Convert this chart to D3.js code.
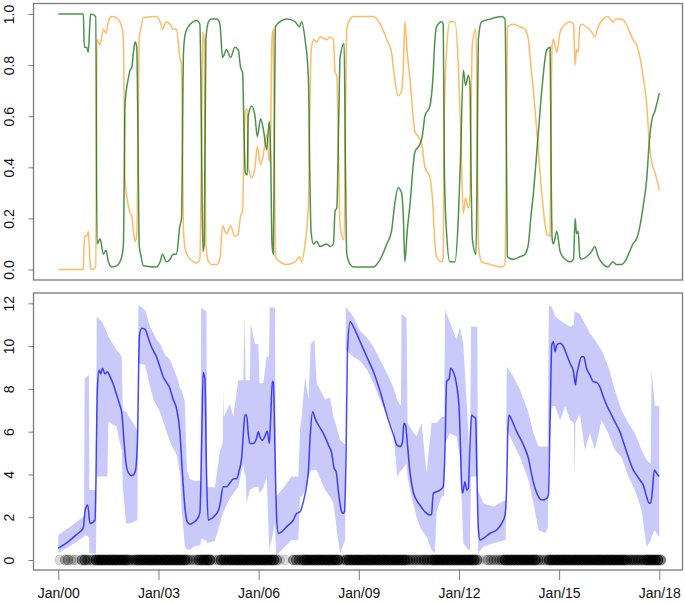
<!DOCTYPE html>
<html>
<head>
<meta charset="utf-8">
<script src="https://cdn.jsdelivr.net/npm/d3@7"></script>
<style>
  body { margin: 0; background: #fff; }
  svg { display: block; font-family: "Liberation Sans", Arial, sans-serif; }
</style>
</head>
<body>
<svg id="chart" width="685" height="603"></svg>
<script>
// ---- data ----
var probYears = [2000.00,2000.75,2000.78,2000.85,2000.90,2000.94,2000.97,2001.12,2001.16,2001.25,2001.35,2001.43,2001.50,2001.60,2001.75,2001.90,2001.95,2002.00,2002.10,2002.15,2002.20,2002.25,2002.30,2002.35,2002.38,2002.42,2002.48,2002.55,2002.94,2003.05,2003.12,2003.24,2003.35,2003.44,2003.54,2003.64,2003.69,2003.75,2003.80,2003.89,2004.05,2004.14,2004.24,2004.29,2004.33,2004.37,2004.42,2004.50,2004.59,2004.75,2004.84,2004.92,2005.04,2005.16,2005.29,2005.39,2005.46,2005.52,2005.56,2005.60,2005.66,2005.69,2005.79,2005.89,2005.96,2006.06,2006.14,2006.24,2006.32,2006.36,2006.40,2006.44,2006.47,2006.50,2006.64,2006.84,2007.09,2007.22,2007.29,2007.39,2007.49,2007.53,2007.57,2007.64,2007.74,2007.84,2008.04,2008.14,2008.24,2008.29,2008.34,2008.40,2008.44,2008.56,2008.60,2008.64,2008.74,2008.84,2009.44,2009.64,2009.84,2009.98,2010.08,2010.18,2010.28,2010.33,2010.38,2010.45,2010.53,2010.68,2010.83,2010.90,2010.98,2011.13,2011.22,2011.28,2011.33,2011.48,2011.53,2011.56,2011.63,2011.73,2011.88,2011.98,2012.05,2012.13,2012.20,2012.28,2012.33,2012.36,2012.40,2012.51,2012.55,2012.58,2012.68,2012.93,2013.28,2013.38,2013.42,2013.45,2013.63,2013.83,2013.98,2014.08,2014.15,2014.23,2014.35,2014.48,2014.63,2014.73,2014.76,2014.79,2014.83,2014.93,2015.03,2015.18,2015.33,2015.43,2015.48,2015.52,2015.57,2015.62,2015.67,2015.82,2015.97,2016.07,2016.17,2016.32,2016.46,2016.61,2016.71,2016.86,2017.01,2017.11,2017.21,2017.32,2017.42,2017.52,2017.62,2017.70,2017.77,2017.87,2018.00];
var probGreen = [1.00,1.00,0.87,0.87,0.85,0.95,1.00,0.99,0.10,0.12,0.06,0.075,0.03,0.01,0.015,0.05,0.10,0.65,0.75,0.78,0.79,0.85,0.89,0.87,0.60,0.10,0.05,0.015,0.01,0.03,0.06,0.03,0.04,0.06,0.06,0.17,0.20,0.85,0.92,0.95,0.97,0.975,0.96,0.50,0.07,0.10,0.90,0.97,0.98,0.98,0.96,0.83,0.86,0.83,0.87,0.86,0.79,0.77,0.55,0.38,0.37,0.60,0.64,0.60,0.52,0.59,0.55,0.47,0.58,0.45,0.10,0.06,0.50,0.95,0.97,0.98,0.97,0.95,0.97,0.90,0.75,0.40,0.15,0.10,0.11,0.09,0.10,0.09,0.10,0.23,0.24,0.60,0.83,0.885,0.40,0.06,0.02,0.01,0.01,0.04,0.10,0.15,0.26,0.32,0.30,0.22,0.03,0.15,0.25,0.46,0.49,0.52,0.60,0.64,0.75,0.90,0.95,0.97,0.96,0.40,0.14,0.03,0.03,0.20,0.45,0.78,0.72,0.76,0.72,0.40,0.12,0.06,0.50,0.90,0.97,0.98,0.99,0.98,0.50,0.05,0.04,0.05,0.06,0.10,0.20,0.30,0.49,0.70,0.86,0.87,0.40,0.12,0.10,0.15,0.07,0.04,0.03,0.04,0.20,0.14,0.15,0.05,0.04,0.05,0.07,0.09,0.05,0.02,0.01,0.03,0.02,0.02,0.04,0.07,0.10,0.12,0.17,0.25,0.35,0.50,0.58,0.62,0.69];
var probOrange = [0.00,0.00,0.13,0.13,0.15,0.05,0.00,0.01,0.90,0.88,0.94,0.925,0.97,0.99,0.985,0.95,0.90,0.35,0.25,0.22,0.21,0.15,0.11,0.13,0.40,0.90,0.95,0.985,0.99,0.97,0.94,0.97,0.96,0.94,0.94,0.83,0.80,0.15,0.08,0.05,0.03,0.025,0.04,0.50,0.93,0.90,0.10,0.03,0.02,0.02,0.04,0.17,0.14,0.17,0.13,0.14,0.21,0.23,0.45,0.62,0.63,0.40,0.36,0.40,0.48,0.41,0.45,0.53,0.42,0.55,0.90,0.94,0.50,0.05,0.03,0.02,0.03,0.05,0.03,0.10,0.25,0.60,0.85,0.90,0.89,0.91,0.90,0.91,0.90,0.77,0.76,0.40,0.17,0.115,0.60,0.94,0.98,0.99,0.99,0.96,0.90,0.85,0.74,0.68,0.70,0.78,0.97,0.85,0.75,0.54,0.51,0.48,0.40,0.36,0.25,0.10,0.05,0.03,0.04,0.60,0.86,0.97,0.97,0.80,0.55,0.22,0.28,0.24,0.28,0.60,0.88,0.94,0.50,0.10,0.03,0.02,0.01,0.02,0.50,0.95,0.96,0.95,0.94,0.90,0.80,0.70,0.51,0.30,0.14,0.13,0.60,0.88,0.90,0.85,0.93,0.96,0.97,0.96,0.80,0.86,0.85,0.95,0.96,0.95,0.93,0.91,0.95,0.98,0.99,0.97,0.98,0.98,0.96,0.93,0.90,0.88,0.83,0.75,0.65,0.50,0.42,0.38,0.31];

var rateYears = [2000.00,2000.25,2000.55,2000.75,2000.80,2000.88,2000.95,2001.10,2001.17,2001.22,2001.27,2001.32,2001.40,2001.47,2001.55,2001.65,2001.75,2001.85,2001.90,2001.97,2002.03,2002.10,2002.20,2002.30,2002.37,2002.43,2002.50,2002.59,2002.69,2002.79,2002.94,2003.04,2003.14,2003.24,2003.34,2003.44,2003.54,2003.64,2003.72,2003.79,2003.86,2003.94,2004.04,2004.14,2004.24,2004.30,2004.34,2004.39,2004.44,2004.49,2004.54,2004.64,2004.79,2004.84,2004.94,2005.04,2005.14,2005.24,2005.34,2005.42,2005.49,2005.54,2005.59,2005.64,2005.69,2005.74,2005.84,2005.94,2005.99,2006.04,2006.12,2006.19,2006.26,2006.32,2006.36,2006.41,2006.44,2006.49,2006.54,2006.59,2006.69,2006.84,2007.04,2007.14,2007.24,2007.34,2007.44,2007.49,2007.54,2007.62,2007.69,2007.79,2007.94,2008.09,2008.19,2008.26,2008.32,2008.39,2008.46,2008.52,2008.57,2008.62,2008.66,2008.74,2008.84,2009.04,2009.24,2009.44,2009.64,2009.84,2010.04,2010.14,2010.24,2010.31,2010.35,2010.40,2010.45,2010.53,2010.63,2010.73,2010.83,2010.98,2011.13,2011.18,2011.23,2011.33,2011.43,2011.53,2011.58,2011.63,2011.71,2011.75,2011.83,2011.93,2012.01,2012.05,2012.08,2012.11,2012.18,2012.23,2012.28,2012.33,2012.38,2012.43,2012.50,2012.53,2012.58,2012.63,2012.73,2012.93,2013.13,2013.28,2013.38,2013.43,2013.46,2013.50,2013.58,2013.73,2013.93,2014.08,2014.18,2014.28,2014.38,2014.48,2014.63,2014.68,2014.73,2014.78,2014.83,2014.88,2014.93,2015.03,2015.13,2015.23,2015.33,2015.43,2015.49,2015.52,2015.57,2015.67,2015.74,2015.82,2015.92,2016.02,2016.12,2016.22,2016.32,2016.42,2016.52,2016.62,2016.72,2016.82,2016.92,2017.02,2017.12,2017.22,2017.32,2017.42,2017.52,2017.62,2017.70,2017.74,2017.79,2017.85,2017.92,2018.00];
var rateValues = [0.55,0.80,1.20,1.50,2.30,2.57,1.71,1.87,8.00,8.88,8.70,8.96,8.70,8.80,8.57,8.20,7.71,7.20,6.90,5.50,4.50,4.08,3.94,4.10,5.50,10.50,10.83,10.80,10.40,9.97,9.50,9.04,8.57,8.30,8.03,7.50,7.09,6.00,4.00,2.50,1.79,1.67,1.75,1.87,2.20,6.00,8.77,8.50,4.00,1.87,1.90,2.00,2.30,2.57,3.43,3.43,3.60,3.79,3.80,4.20,4.75,5.85,6.78,6.78,5.90,5.45,5.45,5.70,6.00,5.75,5.60,5.80,6.03,5.45,6.60,8.34,8.30,5.06,1.95,1.25,1.32,1.56,1.87,2.18,2.25,2.73,3.50,4.13,5.69,6.93,6.62,6.31,5.92,5.38,4.99,4.29,4.13,3.19,2.42,2.18,2.25,5.00,9.74,11.14,10.90,10.20,9.50,8.80,7.87,6.78,5.84,5.38,5.30,5.53,6.39,6.30,5.53,4.13,3.19,2.80,2.57,2.26,2.10,2.15,3.12,3.19,3.27,3.43,5.06,8.34,8.49,8.96,8.80,8.18,6.93,5.00,3.50,3.12,3.66,3.27,3.35,5.38,6.78,6.70,6.62,4.50,1.48,0.93,1.01,1.25,1.40,1.71,2.10,3.50,5.84,6.78,6.55,6.00,5.38,4.75,3.97,3.35,2.96,2.80,2.88,3.04,6.62,10.05,10.20,9.74,10.05,10.13,9.97,9.58,9.19,8.80,8.18,8.60,8.96,9.50,9.50,8.96,8.65,8.34,8.30,8.10,7.64,7.25,6.93,6.62,6.31,6.00,5.53,5.06,4.60,4.21,3.97,3.74,3.50,2.96,2.65,2.65,3.19,4.21,4.05,3.90];

var bandYears = [2000.00,2000.40,2000.77,2000.79,2000.92,2000.93,2001.13,2001.15,2001.30,2001.47,2001.50,2001.75,2001.80,2001.90,2001.93,2002.03,2002.15,2002.37,2002.40,2002.60,2002.75,2002.85,2002.95,2003.05,2003.20,2003.35,2003.55,2003.65,2003.69,2003.79,2003.85,2003.94,2004.04,2004.26,2004.28,2004.44,2004.46,2004.69,2004.84,2004.93,2004.94,2004.96,2005.14,2005.24,2005.39,2005.54,2005.58,2005.61,2005.64,2005.74,2005.76,2005.89,2005.99,2006.03,2006.14,2006.24,2006.31,2006.33,2006.49,2006.52,2006.69,2006.99,2007.19,2007.24,2007.29,2007.39,2007.49,2007.56,2007.67,2007.74,2007.99,2008.14,2008.24,2008.34,2008.44,2008.59,2008.61,2008.84,2009.04,2009.24,2009.44,2009.64,2009.84,2010.03,2010.15,2010.26,2010.28,2010.43,2010.46,2010.58,2010.73,2010.88,2011.03,2011.18,2011.28,2011.33,2011.48,2011.56,2011.58,2011.73,2011.93,2012.03,2012.13,2012.28,2012.33,2012.36,2012.55,2012.57,2012.73,2013.03,2013.40,2013.43,2013.63,2013.83,2014.08,2014.23,2014.38,2014.58,2014.66,2014.69,2014.78,2014.88,2015.03,2015.18,2015.33,2015.44,2015.46,2015.49,2015.62,2015.77,2015.92,2016.07,2016.27,2016.47,2016.67,2016.87,2017.07,2017.27,2017.47,2017.62,2017.74,2017.77,2017.87,2017.97,2018.00];
var bandLower = [0.31,0.70,1.09,1.17,1.09,0.31,0.31,3.90,3.90,3.90,6.47,6.23,5.77,5.14,3.43,1.71,1.71,1.87,9.20,9.12,8.10,7.50,7.20,6.90,6.20,5.50,4.90,4.00,2.50,0.62,0.50,0.47,0.62,0.70,1.00,0.90,0.78,0.90,1.70,2.20,2.20,2.30,2.90,3.10,3.43,4.50,4.00,4.00,2.65,3.30,3.30,3.43,3.43,3.12,3.35,3.90,0.80,0.50,1.70,0.20,0.47,0.94,0.94,2.96,2.96,3.27,3.90,4.20,4.20,4.20,3.27,2.96,2.65,1.40,0.30,0.94,9.80,9.50,9.30,8.90,8.26,7.48,6.86,6.08,3.90,4.20,4.20,4.50,3.90,2.96,2.00,1.40,1.09,0.47,0.31,2.30,2.96,3.00,5.45,5.92,5.77,4.80,0.78,0.47,0.47,3.90,3.90,0.31,0.62,0.78,0.94,6.08,5.45,4.80,3.74,2.65,1.40,1.25,1.50,4.90,7.20,7.20,6.55,7.20,6.55,6.40,3.90,6.40,6.86,5.14,5.92,5.14,6.55,5.92,5.14,4.80,3.90,3.27,2.34,0.62,0.90,1.10,1.40,1.10,1.10];
var bandUpper = [1.17,1.60,2.05,8.50,8.65,3.27,3.27,11.38,11.15,10.60,10.44,9.80,9.74,9.50,7.00,6.94,6.62,6.08,11.92,11.69,10.90,10.60,10.30,10.10,9.60,9.35,8.57,8.00,7.95,7.40,4.20,3.80,3.70,3.70,11.80,11.60,3.40,3.40,5.10,5.50,7.95,6.70,7.30,6.70,8.40,8.40,11.45,8.40,8.40,8.40,11.06,10.10,10.10,8.26,8.26,9.50,9.50,11.80,11.80,2.96,3.27,3.90,3.90,6.10,6.70,8.57,7.50,10.10,10.30,8.26,7.50,7.60,6.70,6.20,5.60,5.40,11.84,11.37,10.70,10.40,9.97,9.35,8.73,8.10,7.48,7.20,11.50,11.30,6.40,6.10,5.77,6.40,4.05,6.40,6.40,6.40,6.70,6.70,11.70,11.10,10.30,10.90,10.10,6.10,3.90,10.90,10.90,3.27,2.65,2.50,2.80,9.04,8.57,7.95,6.90,5.92,5.30,5.30,5.30,11.90,11.84,11.40,11.20,11.06,10.90,11.00,11.60,11.60,11.50,11.06,10.60,10.30,9.80,9.04,7.95,7.00,6.40,5.92,5.14,4.68,4.50,8.90,7.20,7.20,7.20];

// events per month, Jan 2000 .. Jan 2018 (one row per year)
var eventMonthCounts = [
  1,0,2,2,1,1,1,0,3,4,3,2,
  2,6,6,6,6,6,6,6,6,6,6,6,
  6,4,3,4,6,6,6,6,6,6,6,6,
  6,6,6,6,6,6,6,6,6,6,3,2,
  2,2,5,6,6,6,6,1,1,2,5,5,
  5,5,6,6,6,6,6,6,6,6,6,6,
  6,6,6,6,6,6,3,1,0,1,0,0,
  3,3,3,4,6,6,6,6,6,6,6,6,
  6,6,6,6,6,2,1,5,6,6,6,6,
  6,6,6,6,6,6,6,6,6,6,6,6,
  6,6,6,6,6,4,3,3,3,3,3,4,
  4,3,6,6,6,6,6,6,6,6,6,6,
  6,6,6,6,6,6,4,1,0,1,2,2,
  2,2,2,3,6,6,6,6,6,6,6,6,
  6,6,6,6,3,2,2,2,6,6,6,6,
  6,6,6,6,6,6,6,6,6,6,6,6,
  6,6,6,6,6,6,6,6,6,6,6,6,
  4,4,4,4,4,4,4,6,6,6,6,6,
  4
];

var xTickYears = [2000, 2003, 2006, 2009, 2012, 2015, 2018];
var xTickLabels = ["Jan/00", "Jan/03", "Jan/06", "Jan/09", "Jan/12", "Jan/15", "Jan/18"];
var topTicks = [0, 0.2, 0.4, 0.6, 0.8, 1.0];
var bottomTicks = [0, 2, 4, 6, 8, 10, 12];

// ---- layout ----
var svg = d3.select("#chart");
var boxL = 33.5, boxR = 682.5;
var top1 = 3.5, bot1 = 280;
var top2 = 293, bot2 = 570;
var frame = "#7a7a7a";

var x = d3.scaleLinear().domain([2000, 2018]).range([58.3, 659.3]);
var yTop = d3.scaleLinear().domain([0, 1]).range([269.5, 14]);
var yBot = d3.scaleLinear().domain([0, 12]).range([560, 303.3]);

function yAxis(scale, ticks, fmt) {
  return function (g) {
    g.call(d3.axisLeft(scale).tickValues(ticks).tickFormat(fmt).tickSize(5).tickPadding(0));
    g.select(".domain").remove();
    g.selectAll(".tick line").attr("stroke", frame);
    g.selectAll(".tick text")
      .attr("font-size", 14).attr("fill", "#111")
      .attr("transform", "rotate(-90)")
      .attr("x", 0).attr("y", -20)
      .attr("dy", 0)
      .attr("text-anchor", "middle");
  };
}

// smooth but non-overshooting lines, like the original
var curve = d3.curveMonotoneX;

// ---- top panel: state probabilities ----
var probRows = probYears.map(function (t, i) { return { t: t, g: probGreen[i], o: probOrange[i] }; });

svg.append("path").datum(probRows)
  .attr("fill", "none").attr("stroke", "rgb(255,140,0)").attr("stroke-opacity", 0.6).attr("stroke-width", 1.5)
  .attr("d", d3.line().curve(curve).x(function (d) { return x(d.t); }).y(function (d) { return yTop(d.o); }));
svg.append("path").datum(probRows)
  .attr("fill", "none").attr("stroke", "rgb(0,100,0)").attr("stroke-opacity", 0.7).attr("stroke-width", 1.5)
  .attr("d", d3.line().curve(curve).x(function (d) { return x(d.t); }).y(function (d) { return yTop(d.g); }));

svg.append("rect").attr("x", boxL).attr("y", top1).attr("width", boxR - boxL).attr("height", bot1 - top1)
  .attr("fill", "none").attr("stroke", frame).attr("stroke-width", 1.3);
svg.append("g").attr("transform", "translate(" + boxL + ",0)")
  .call(yAxis(yTop, topTicks, d3.format(".1f")));

// ---- bottom panel: rate with band and events ----
var bandRows = bandYears.map(function (t, i) { return { t: t, lo: bandLower[i], hi: bandUpper[i] }; });
svg.append("path").datum(bandRows)
  .attr("fill", "rgb(0,0,230)").attr("fill-opacity", 0.21)
  .attr("d", d3.area().x(function (d) { return x(d.t); })
    .y0(function (d) { return yBot(d.lo); }).y1(function (d) { return yBot(d.hi); }));

var rateRows = rateYears.map(function (t, i) { return { t: t, v: rateValues[i] }; });
svg.append("path").datum(rateRows)
  .attr("fill", "none").attr("stroke", "rgb(0,0,255)").attr("stroke-opacity", 0.7).attr("stroke-width", 1.5)
  .attr("d", d3.line().curve(curve).x(function (d) { return x(d.t); }).y(function (d) { return yBot(d.v); }));

var events = [];
eventMonthCounts.forEach(function (c, i) {
  for (var k = 0; k < c; k++) events.push(2000 + (i + 0.5) / 12);
});
svg.append("g").selectAll("circle").data(events).enter().append("circle")
  .attr("cx", function (d) { return x(d); })
  .attr("cy", yBot(0))
  .attr("r", 5)
  .attr("fill", "#000").attr("fill-opacity", 0.15)
  .attr("stroke", "#000").attr("stroke-opacity", 0.1);

svg.append("rect").attr("x", boxL).attr("y", top2).attr("width", boxR - boxL).attr("height", bot2 - top2)
  .attr("fill", "none").attr("stroke", frame).attr("stroke-width", 1.3);
svg.append("g").attr("transform", "translate(" + boxL + ",0)")
  .call(yAxis(yBot, bottomTicks, d3.format("d")));

var xg = svg.append("g").attr("transform", "translate(0," + bot2 + ")")
  .call(d3.axisBottom(x).tickValues(xTickYears)
    .tickFormat(function (d, i) { return xTickLabels[i]; })
    .tickSize(10).tickPadding(8));
xg.select(".domain").remove();
xg.selectAll(".tick line").attr("stroke", frame);
xg.selectAll(".tick text").attr("font-size", 14).attr("fill", "#111").attr("dy", "0.71em");
</script>
</body>
</html>
